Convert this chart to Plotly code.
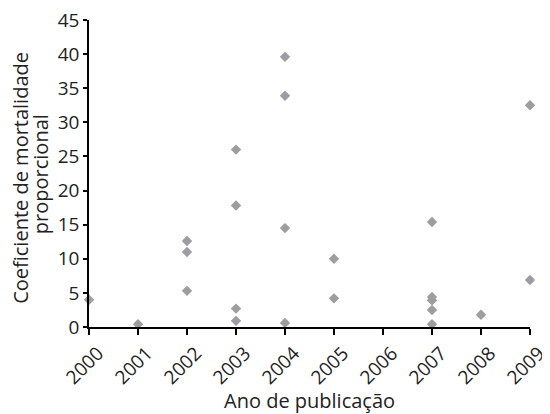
import plotly.graph_objects as go

years = [2000, 2001, 2002, 2002, 2002, 2003, 2003, 2003, 2003,
         2004, 2004, 2004, 2004, 2005, 2005,
         2007, 2007, 2007, 2007, 2007, 2008, 2009, 2009]
coef = [4.0, 0.4, 12.6, 11.0, 5.3, 26.0, 17.8, 2.7, 0.9,
        39.6, 33.9, 14.5, 0.6, 10.0, 4.2,
        15.4, 4.4, 3.9, 2.5, 0.4, 1.8, 32.5, 6.9]
tick_years = list(range(2000, 2010))
y_ticks = [0, 5, 10, 15, 20, 25, 30, 35, 40, 45]
x_title = "Ano de publicação"
y_title_lines = ["Coeficiente de mortalidade", "proporcional"]

FONT = "Open Sans"
TICK_FS = 19
TITLE_FS = 20
# page body has an 8px default margin, so the figure is made 8px smaller
fig = go.Figure(go.Scatter(
    x=years, y=coef, mode="markers",
    marker=dict(symbol="diamond", size=8, color="#9d9da1"),
    cliponaxis=False,
))
fig.update_layout(
    width=542, height=406,
    margin=dict(l=81, r=20, t=12, b=87),
    plot_bgcolor="white", paper_bgcolor="white",
    font=dict(family=FONT, size=TICK_FS, color="#222"),
    showlegend=False,
    annotations=[
        dict(text=x_title, xref="paper", yref="paper",
             x=0.5, y=-0.241, xanchor="center", yanchor="middle",
             showarrow=False, font=dict(size=TITLE_FS)),
        dict(text=y_title_lines[0], xref="paper", yref="paper",
             x=-0.157, y=0.485, xanchor="center", yanchor="middle", textangle=-90,
             showarrow=False, font=dict(size=TITLE_FS)),
        dict(text=y_title_lines[1], xref="paper", yref="paper",
             x=-0.111, y=0.498, xanchor="center", yanchor="middle", textangle=-90,
             showarrow=False, font=dict(size=TITLE_FS)),
    ],
)
fig.update_xaxes(
    range=[2000, 2009], tickvals=tick_years, ticktext=[str(y) for y in tick_years],
    tickangle=-45, ticklabelshift=9, showgrid=False, zeroline=False, automargin=False,
    ticklabeloverflow="allow",
    showline=True, linecolor="black", linewidth=1.5,
    ticks="outside", ticklen=6, tickcolor="black", tickwidth=1.5,
)
fig.update_yaxes(
    range=[0, 45], tickvals=y_ticks, showgrid=False, zeroline=False, automargin=False,
    ticklabeloverflow="allow",
    showline=True, linecolor="black", linewidth=1.5,
    ticks="outside", ticklen=4, tickcolor="black", tickwidth=1.5,
)
fig.write_html("out.html")
